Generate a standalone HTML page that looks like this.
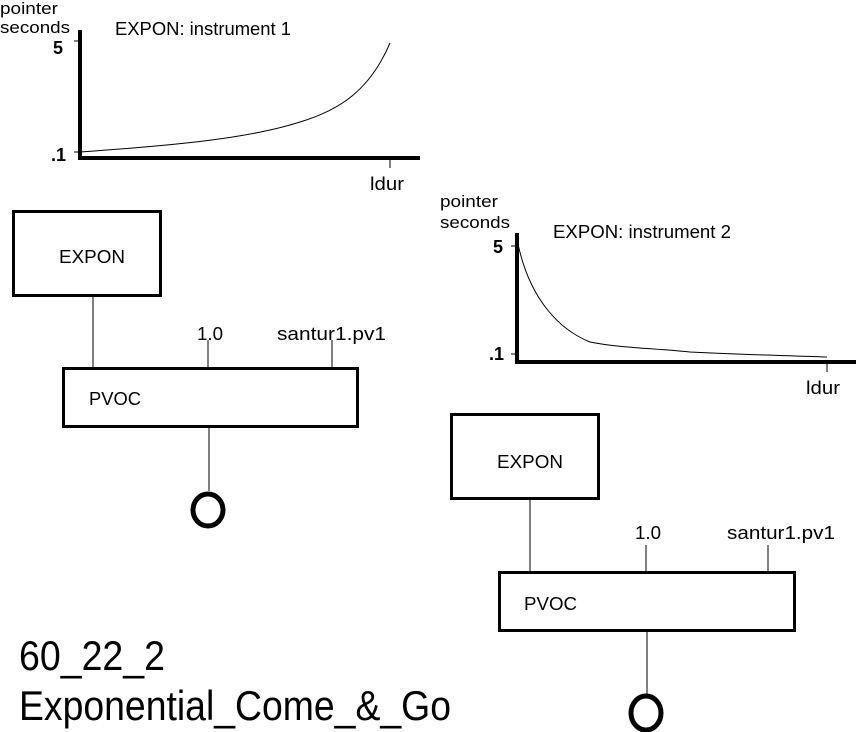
<!DOCTYPE html>
<html><head><style>body{margin:0;background:#fff}svg{display:block}text{font-family:"Liberation Sans",sans-serif;fill:#000}</style></head><body>
<svg width="858" height="732" viewBox="0 0 858 732" xmlns="http://www.w3.org/2000/svg">
<g font-size="17">
<text x="0" y="14" textLength="58" lengthAdjust="spacingAndGlyphs">pointer</text>
<text x="0" y="33" textLength="70" lengthAdjust="spacingAndGlyphs">seconds</text>
<text x="115" y="35" font-size="18" textLength="176" lengthAdjust="spacingAndGlyphs">EXPON: instrument 1</text>
<text x="53" y="54" font-size="18" font-weight="bold">5</text>
<text x="51" y="161" font-size="18" font-weight="bold">.1</text>
<text x="370" y="190" font-size="18" textLength="34" lengthAdjust="spacingAndGlyphs">ldur</text>
</g>
<g stroke="#000" fill="none">
<line x1="80" y1="30" x2="80" y2="160" stroke-width="4"/>
<line x1="78" y1="158" x2="420" y2="158" stroke-width="4"/>
<line x1="74" y1="41" x2="80" y2="41" stroke-width="1"/>
<line x1="74" y1="152" x2="80" y2="152" stroke-width="1"/>
<line x1="390" y1="158" x2="390" y2="168" stroke-width="1"/>
<path d="M80 152 C180 145 250 138 300 122 C340 110 370 90 390 43" stroke-width="1"/>
</g>
<g font-size="17">
<text x="440" y="207" textLength="58" lengthAdjust="spacingAndGlyphs">pointer</text>
<text x="440" y="228" textLength="70" lengthAdjust="spacingAndGlyphs">seconds</text>
<text x="553" y="238" font-size="18" textLength="178" lengthAdjust="spacingAndGlyphs">EXPON: instrument 2</text>
<text x="493" y="253" font-size="18" font-weight="bold">5</text>
<text x="489" y="360" font-size="18" font-weight="bold">.1</text>
<text x="806" y="394" font-size="18" textLength="34" lengthAdjust="spacingAndGlyphs">ldur</text>
</g>
<g stroke="#000" fill="none">
<line x1="517" y1="233" x2="517" y2="364" stroke-width="4"/>
<line x1="515" y1="362" x2="856" y2="362" stroke-width="4"/>
<line x1="511" y1="246" x2="517" y2="246" stroke-width="1"/>
<line x1="511" y1="354" x2="517" y2="354" stroke-width="1"/>
<line x1="827" y1="362" x2="827" y2="372" stroke-width="1"/>
<path d="M518 244 C530 300 560 330 590 342 C620 348 650 348 690 352 C750 355 800 356 827 357" stroke-width="1"/>
</g>
<g stroke="#000" fill="none">
<rect x="13.5" y="211.5" width="147" height="84" stroke-width="3"/>
<line x1="93" y1="296" x2="93" y2="368" stroke-width="1"/>
<line x1="208" y1="340" x2="208" y2="368" stroke-width="1"/>
<line x1="332" y1="340" x2="332" y2="368" stroke-width="1"/>
<rect x="63.5" y="368.5" width="294" height="58" stroke-width="3"/>
<line x1="209" y1="427" x2="209" y2="491" stroke-width="1"/>
<ellipse cx="208" cy="510" rx="15" ry="16" stroke-width="5"/>
<rect x="451.5" y="414.5" width="147" height="84" stroke-width="3"/>
<line x1="530" y1="499" x2="530" y2="572" stroke-width="1"/>
<line x1="646" y1="545" x2="646" y2="572" stroke-width="1"/>
<line x1="768" y1="545" x2="768" y2="572" stroke-width="1"/>
<rect x="499.5" y="572.5" width="295" height="58" stroke-width="3"/>
<line x1="647" y1="631" x2="647" y2="694" stroke-width="1"/>
<ellipse cx="646" cy="713" rx="15" ry="17" stroke-width="5"/>
</g>
<g font-size="18">
<text x="59" y="263" textLength="66" lengthAdjust="spacingAndGlyphs">EXPON</text>
<text x="197" y="340" textLength="26" lengthAdjust="spacingAndGlyphs">1.0</text>
<text x="277" y="340" textLength="109" lengthAdjust="spacingAndGlyphs">santur1.pv1</text>
<text x="89" y="405" textLength="52" lengthAdjust="spacingAndGlyphs">PVOC</text>
<text x="497" y="468" textLength="66" lengthAdjust="spacingAndGlyphs">EXPON</text>
<text x="635" y="539" textLength="26" lengthAdjust="spacingAndGlyphs">1.0</text>
<text x="727" y="539" textLength="108" lengthAdjust="spacingAndGlyphs">santur1.pv1</text>
<text x="524" y="610" textLength="53" lengthAdjust="spacingAndGlyphs">PVOC</text>
</g>
<text x="19" y="670" font-size="42" textLength="146" lengthAdjust="spacingAndGlyphs">60_22_2</text>
<text x="19" y="720" font-size="42" textLength="432" lengthAdjust="spacingAndGlyphs">Exponential_Come_&amp;_Go</text>
</svg>
</body></html>
